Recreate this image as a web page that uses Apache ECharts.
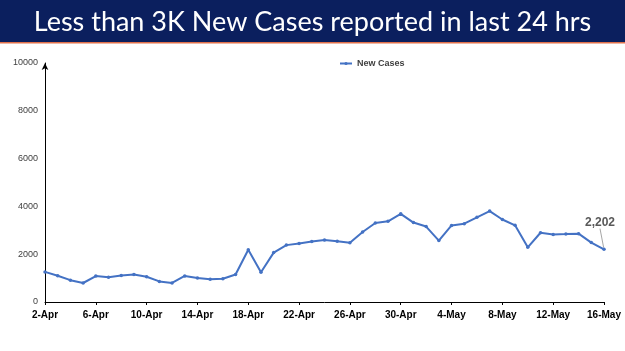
<!DOCTYPE html>
<html>
<head>
<meta charset="utf-8">
<script src="https://cdn.jsdelivr.net/npm/echarts@6/dist/echarts.min.js"></script>
<style>
  html, body { margin: 0; padding: 0; background: #fff; }
  #chart { width: 625px; height: 351px; }
</style>
</head>
<body>
<div id="chart"></div>
<script>
const dates = [
  '2-Apr', '3-Apr', '4-Apr', '5-Apr', '6-Apr', '7-Apr', '8-Apr', '9-Apr', '10-Apr', '11-Apr',
  '12-Apr', '13-Apr', '14-Apr', '15-Apr', '16-Apr', '17-Apr', '18-Apr', '19-Apr', '20-Apr', '21-Apr',
  '22-Apr', '23-Apr', '24-Apr', '25-Apr', '26-Apr', '27-Apr', '28-Apr', '29-Apr', '30-Apr', '1-May',
  '2-May', '3-May', '4-May', '5-May', '6-May', '7-May', '8-May', '9-May', '10-May', '11-May',
  '12-May', '13-May', '14-May', '15-May', '16-May'
]
const newCases = [
  1260, 1096, 913, 795, 1086, 1033, 1109, 1150, 1054, 861,
  796, 1088, 1007, 949, 975, 1150, 2183, 1247, 2067, 2380,
  2451, 2527, 2593, 2541, 2483, 2927, 3303, 3377, 3688, 3324,
  3157, 2568, 3205, 3275, 3545, 3805, 3451, 3207, 2288, 2897,
  2827, 2841, 2858, 2487, 2202
]
const yTicks = [0, 2000, 4000, 6000, 8000, 10000]
const titleText = 'Less than 3K New Cases reported in last 24 hrs'

const chart = echarts.init(document.getElementById('chart'))

const seriesData = newCases.map((v, i) => {
  if (i !== newCases.length - 1) return v
  return {
    value: v,
    label: {
      show: true,
      position: 'top',
      formatter: p => p.value.toLocaleString('en-US'),
      fontFamily: 'Liberation Sans, Arial',
      fontWeight: 'bold',
      fontSize: 12,
      color: '#595959'
    },
    labelLine: { show: true, lineStyle: { color: '#a6a6a6', width: 1 } }
  }
})

chart.setOption({
  animation: false,
  backgroundColor: '#fff',
  graphic: [
    { type: 'rect', left: 0, top: 0, shape: { width: 625, height: 42 }, style: { fill: '#0b1f5e' } },
    { type: 'rect', left: 0, top: 42, shape: { width: 625, height: 1.5 }, style: { fill: '#e0704a' } }
  ],
  title: {
    text: titleText,
    left: 'center',
    top: 4,
    textStyle: { color: '#fff', fontFamily: 'Lato', fontWeight: 'normal', fontSize: 27 }
  },
  legend: {
    data: ['New Cases'],
    top: 54,
    left: 334,
    itemWidth: 12,
    itemHeight: 4,
    itemGap: 2,
    textStyle: { fontFamily: 'Liberation Sans, Arial', fontSize: 9, fontWeight: 'bold', color: '#404040' }
  },
  grid: { left: 45, right: 21, top: 63, bottom: 49, containLabel: false },
  xAxis: {
    type: 'category',
    data: dates,
    boundaryGap: false,
    axisLine: { lineStyle: { color: '#000', width: 1 } },
    axisTick: { show: true, interval: 3, length: 3, lineStyle: { color: '#000' } },
    axisLabel: {
      interval: 3,
      margin: 8,
      fontFamily: 'Liberation Sans, Arial',
      fontSize: 10,
      fontWeight: 'bold',
      color: '#000'
    },
    splitLine: { show: false }
  },
  yAxis: {
    type: 'value',
    min: yTicks[0],
    max: yTicks[yTicks.length - 1],
    interval: 2000,
    axisLine: {
      show: true,
      symbol: ['none', 'arrow'],
      symbolSize: [5, 7],
      lineStyle: { color: '#000', width: 1 }
    },
    axisTick: { show: false },
    axisLabel: {
      margin: 7,
      formatter: v => String(v),
      fontFamily: 'Liberation Sans, Arial',
      fontSize: 9,
      color: '#404040'
    },
    splitLine: { show: false }
  },
  series: [{
    name: 'New Cases',
    type: 'line',
    data: seriesData,
    color: '#4472c4',
    symbol: 'circle',
    symbolSize: 3.5,
    lineStyle: { width: 2, color: '#4472c4' },
    itemStyle: { color: '#4472c4' },
    labelLayout: params => params.dataIndex === newCases.length - 1 ? { dx: -4, dy: -14 } : {}
  }]
})
</script>
</body>
</html>
